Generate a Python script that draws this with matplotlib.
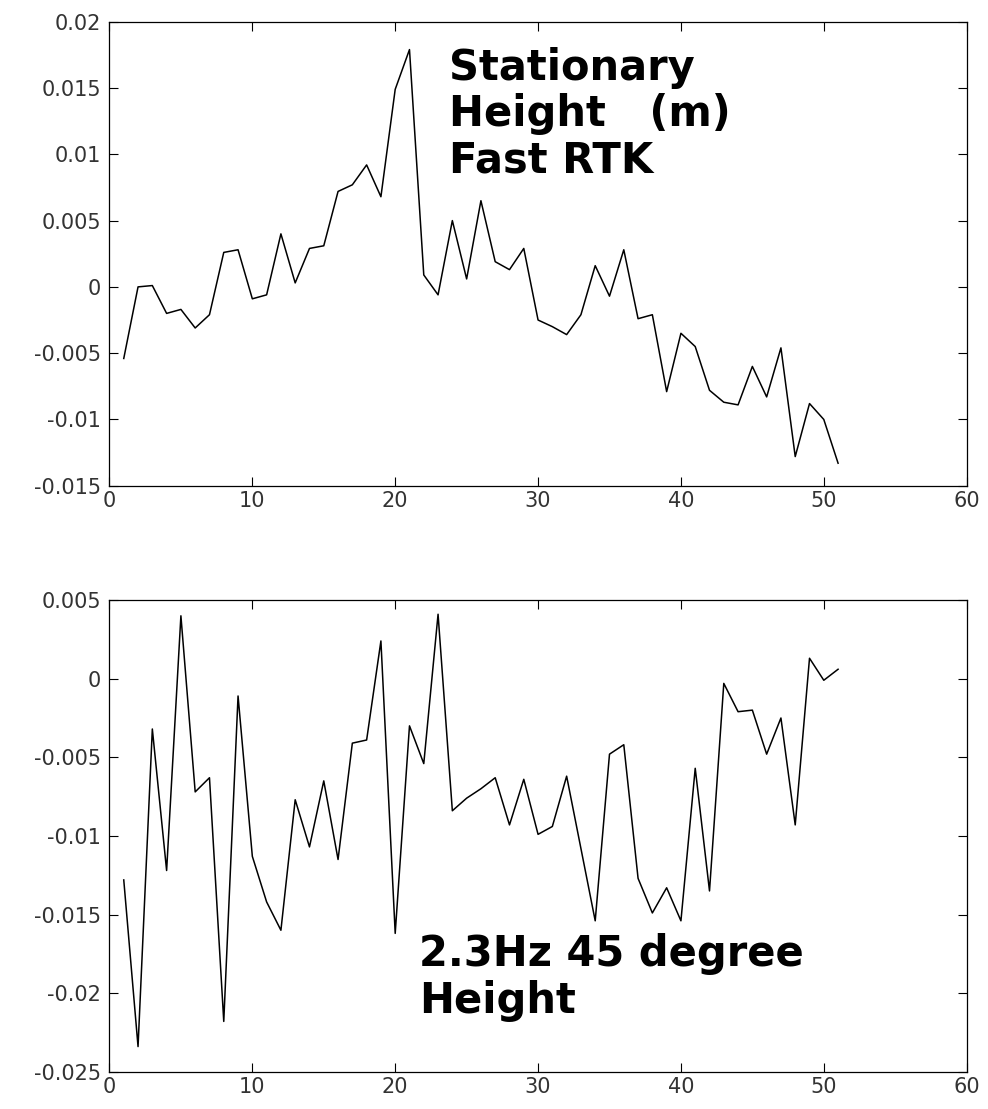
import matplotlib
matplotlib.use("Agg")
import matplotlib.pyplot as plt
import numpy as np

x = list(range(1, 52))

top_y = [-0.0054, 0.0000, 0.0001, -0.0020, -0.0017, -0.0031, -0.0021, 0.0026, 0.0028, -0.0009,
         -0.0006, 0.0040, 0.0003, 0.0029, 0.0031, 0.0072, 0.0077, 0.0092, 0.0068, 0.0149,
         0.0179, 0.0009, -0.0006, 0.0050, 0.0006, 0.0065, 0.0019, 0.0013, 0.0029, -0.0025,
         -0.0030, -0.0036, -0.0021, 0.0016, -0.0007, 0.0028, -0.0024, -0.0021, -0.0079, -0.0035,
         -0.0045, -0.0078, -0.0087, -0.0089, -0.0060, -0.0083, -0.0046, -0.0128, -0.0088, -0.0100,
         -0.0133]

bottom_y = [-0.0128, -0.0234, -0.0032, -0.0122, 0.0040, -0.0072, -0.0063, -0.0218, -0.0011, -0.0113,
            -0.0142, -0.0160, -0.0077, -0.0107, -0.0065, -0.0115, -0.0041, -0.0039, 0.0024, -0.0162,
            -0.0030, -0.0054, 0.0041, -0.0084, -0.0076, -0.0070, -0.0063, -0.0093, -0.0064, -0.0099,
            -0.0094, -0.0062, -0.0108, -0.0154, -0.0048, -0.0042, -0.0127, -0.0149, -0.0133, -0.0154,
            -0.0057, -0.0135, -0.0003, -0.0021, -0.0020, -0.0048, -0.0025, -0.0093, 0.0013, -0.0001,
            0.0006]

x_ticks = [0, 10, 20, 30, 40, 50, 60]
top_yticks = [-0.015, -0.01, -0.005, 0, 0.005, 0.01, 0.015, 0.02]
top_ylabels = ["-0.015", "-0.01", "-0.005", "0", "0.005", "0.01", "0.015", "0.02"]
bot_yticks = [-0.025, -0.02, -0.015, -0.01, -0.005, 0, 0.005]
bot_ylabels = ["-0.025", "-0.02", "-0.015", "-0.01", "-0.005", "0", "0.005"]

top_text = "Stationary\nHeight   (m)\nFast RTK"
bottom_text = "2.3Hz 45 degree\nHeight"

plt.rcParams['font.family'] = ['DejaVu Sans']

fig = plt.figure(figsize=(9.88, 11.09), dpi=100)
ax1 = fig.add_axes([0.1108, 0.5620, 0.8676, 0.4184])
ax2 = fig.add_axes([0.1108, 0.0336, 0.8676, 0.4253])

def style(ax, yticks, ylabels, ylim):
    ax.set_xlim(0, 60)
    ax.set_ylim(*ylim)
    ax.set_xticks(x_ticks)
    ax.set_xticklabels([str(t) for t in x_ticks])
    ax.set_yticks(yticks)
    ax.set_yticklabels(ylabels)
    ax.tick_params(direction='in', length=6.5, width=0.8, top=True, right=True,
                   labelsize=15, colors='black', labelcolor='#333333')
    ax.tick_params(axis='x', pad=4)
    ax.tick_params(axis='y', pad=6)
    for s in ax.spines.values():
        s.set_linewidth(0.9)
        s.set_color('black')

ax1.plot(x, top_y, color='black', linewidth=1.1)
style(ax1, top_yticks, top_ylabels, (-0.015, 0.02))
ax1.text(23.76, 0.0181, top_text, fontsize=30, fontweight='bold', va='top', ha='left',
         linespacing=1.13, color='black')

ax2.plot(x, bottom_y, color='black', linewidth=1.1)
style(ax2, bot_yticks, bot_ylabels, (-0.025, 0.005))
ax2.text(21.66, -0.0162, bottom_text, fontsize=30, fontweight='bold', va='top', ha='left',
         linespacing=1.13, color='black')

fig.savefig("out.png", dpi=100)
